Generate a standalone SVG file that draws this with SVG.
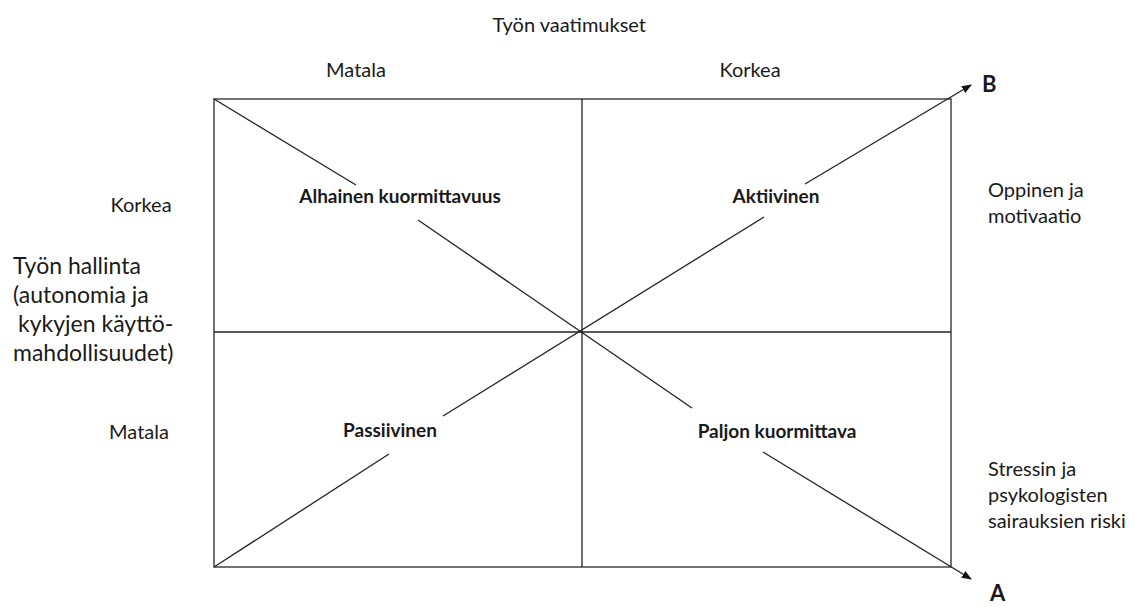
<svg xmlns="http://www.w3.org/2000/svg" width="1135" height="607" viewBox="0 0 1135 607">
<style>
text{font-family:Lato,"Open Sans","Liberation Sans",sans-serif;fill:#1a1a1a}
.t{font-size:20px}
.b{font-size:19px;font-weight:bold}
.big{font-size:23px}
.ab{font-size:22px;font-weight:bold}
.ln{stroke:#222;stroke-width:1.3;fill:none}
.frame{stroke:#444;stroke-width:1.5;fill:none}
</style>
<defs>
<marker id="arr" viewBox="0 0 10 10" refX="9" refY="5" markerWidth="10" markerHeight="10" markerUnits="userSpaceOnUse" orient="auto">
<path d="M0,1 L10,5 L0,9 Z" fill="#111"/>
</marker>
</defs>
<rect width="1135" height="607" fill="#fff"/>
<g id="grid">
<rect class="frame" x="214" y="99" width="737" height="468"/>
<line class="ln" x1="582" y1="99" x2="582" y2="567"/>
<line class="ln" x1="214" y1="332" x2="951" y2="332"/>
</g>
<g id="connectors">
<line class="ln" x1="214" y1="99" x2="356" y2="185"/>
<line class="ln" x1="418" y1="220" x2="692" y2="408"/>
<line class="ln" x1="763" y1="452" x2="971" y2="579" marker-end="url(#arr)"/>
<line class="ln" x1="214" y1="567" x2="389" y2="454"/>
<line class="ln" x1="443" y1="416" x2="764" y2="217"/>
<line class="ln" x1="805" y1="184" x2="971" y2="85" marker-end="url(#arr)"/>
</g>
<g id="title"><text class="t" x="646" y="32" text-anchor="end">Työn vaatimukset</text></g>
<g id="top-low"><text class="t" x="356" y="77" text-anchor="middle">Matala</text></g>
<g id="top-high"><text class="t" x="750" y="77" text-anchor="middle">Korkea</text></g>
<g id="left-high"><text class="t" x="141" y="212" text-anchor="middle">Korkea</text></g>
<g id="left-low"><text class="t" x="139" y="439" text-anchor="middle">Matala</text></g>
<g id="left-title">
<text class="big" x="13" y="274">Työn hallinta</text>
<text class="big" x="13" y="303">(autonomia ja</text>
<text class="big" x="18" y="332">kykyjen käyttö-</text>
<text class="big" x="13" y="361">mahdollisuudet)</text>
</g>
<g id="q-low-strain"><text class="b" x="400" y="203" text-anchor="middle">Alhainen kuormittavuus</text></g>
<g id="q-active"><text class="b" x="776" y="203" text-anchor="middle">Aktiivinen</text></g>
<g id="q-passive"><text class="b" x="390" y="437" text-anchor="middle">Passiivinen</text></g>
<g id="q-high-strain"><text class="b" x="777" y="438" text-anchor="middle">Paljon kuormittava</text></g>
<g id="right-top">
<text class="t" x="988" y="197">Oppinen ja</text>
<text class="t" x="988" y="223">motivaatio</text>
</g>
<g id="right-bottom">
<text class="t" x="988" y="476">Stressin ja</text>
<text class="t" x="988" y="502">psykologisten</text>
<text class="t" x="988" y="528">sairauksien riski</text>
</g>
<g id="label-B"><text class="ab" x="982" y="92">B</text></g>
<g id="label-A"><text class="ab" x="990" y="601">A</text></g>
</svg>
